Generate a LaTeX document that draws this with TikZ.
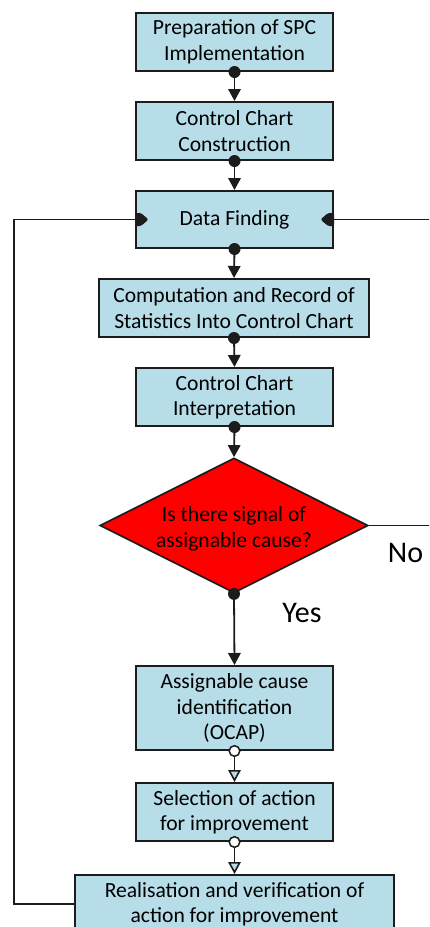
\documentclass[tikz,border=0pt]{standalone}
\usepackage{fontspec}
\setmainfont{Carlito}
\usetikzlibrary{arrows.meta,shapes.geometric}

\definecolor{boxfill}{HTML}{B7DDE8}
\definecolor{inkline}{HTML}{1C1C1C}
\definecolor{decisionred}{HTML}{FF0000}

\newcommand\flowtextfont{\fontsize{21.6}{25.5}\selectfont}
\newcommand\answerfont{\fontsize{30}{34}\selectfont}

\begin{document}
\begin{tikzpicture}[x=1pt,y=-1pt,
  stepbox/.style={rectangle, draw=inkline, line width=2pt, fill=boxfill,
    inner sep=0pt, align=center, font=\flowtextfont, text=black},
  decision/.style={diamond, draw=inkline, line width=1.7pt, fill=decisionred,
    inner sep=0pt},
  flow/.style={draw=inkline, line width=1.8pt,
    -{Triangle[length=12pt,width=12.5pt]}},
  openflow/.style={draw=inkline, line width=1.6pt,
    -{Triangle[length=12pt,width=12.5pt,fill=boxfill]}},
  loopline/.style={draw=inkline, line width=1.8pt},
  startdot/.style={fill=inkline},
  opendot/.style={draw=inkline, line width=1.5pt, fill=white},
  answer/.style={font=\answerfont, text=black, anchor=base, inner sep=0pt}
]
\useasboundingbox (0,0) rectangle (429,927);
\fill[white] (0,0) rectangle (429,927);
\begin{scope}
\clip (0,0) rectangle (429,927);

% process steps
\node[stepbox, minimum width=197, minimum height=58] (b1) at (234.5,42)
  {Preparation of SPC\\Implementation};
\node[stepbox, minimum width=197, minimum height=58] (b2) at (234.5,131)
  {Control Chart\\Construction};
\node[stepbox, minimum width=197, minimum height=57] (b3) at (234.5,219.5)
  {Data Finding};
\node[stepbox, minimum width=270, minimum height=58] (b4) at (234,308)
  {Computation and Record of\\Statistics Into Control Chart};
\node[stepbox, minimum width=197, minimum height=58] (b5) at (234.5,397)
  {Control Chart\\Interpretation};
\node[decision, minimum width=268, minimum height=135] (d) at (234,525.5) {};
\node[font=\flowtextfont, align=center, text=black, inner sep=0pt] (dq) at (234,529)
  {Is there signal of\\assignable cause?};
\node[stepbox, minimum width=197, minimum height=84] (b6) at (234.5,708)
  {Assignable cause\\identification\\(OCAP)};
\node[stepbox, minimum width=197, minimum height=58] (b7) at (234.5,812)
  {Selection of action\\for improvement};
\node[stepbox, minimum width=319, minimum height=58] (b8) at (234.5,904)
  {Realisation and verification of\\action for improvement};

% decision answers
\node[answer] (no) at (405.5,562) {No};
\node[answer] (yes) at (302,622) {Yes};

% main flow
\draw[flow] (b1.south) -- (b2.north);
\draw[flow] (b2.south) -- (b3.north);
\draw[flow] (b3.south) -- (b4.north);
\draw[flow] (b4.south) -- (b5.north);
\draw[flow] (b5.south) -- (d.north);
\draw[flow] (d.south) -- (b6.north);
\draw[openflow] (b6.south) -- (b7.north);
\draw[openflow] (b7.south) -- (b8.north);

\foreach \n in {b1,b2,b3,b4,b5,d}
  \fill[startdot] (\n.south) circle (6);
\foreach \n in {b6,b7}
  \filldraw[opendot] (\n.south) circle (5.3);

% feedback loops into data finding
\coordinate (loopL) at (14,219.5);
\coordinate (loopR) at (450,219.5);
\draw[loopline] (b8.west) -| (loopL) |- (b3.west);
\draw[loopline] (d.east) -| (loopR) |- (b3.east);

\fill[inkline, rounded corners=1.5pt] (b3.west) ++(0,6.5) -- ++(6,0)
  -- ++(7.5,-6.5) -- ++(-7.5,-6.5) -- ++(-6,0) -- cycle;
\fill[inkline, rounded corners=1.5pt] (b3.east) ++(0,6.5) -- ++(-6,0)
  -- ++(-7.5,-6.5) -- ++(7.5,-6.5) -- ++(6,0) -- cycle;
\end{scope}
\end{tikzpicture}
\end{document}
